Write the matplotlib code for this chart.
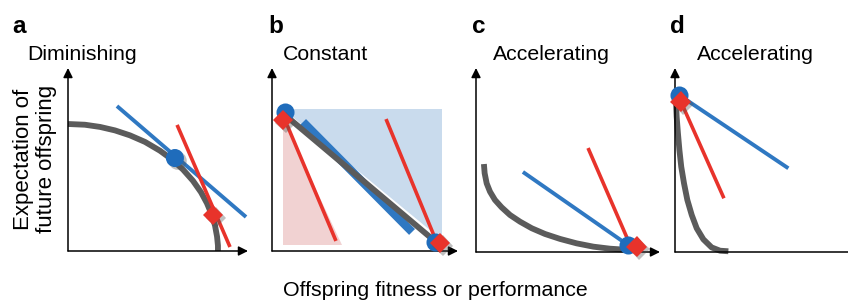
import numpy as np
import matplotlib
matplotlib.use('Agg')
from matplotlib import pyplot as plt
import matplotlib.patheffects as pe

plt.rcParams['font.family'] = ['Liberation Sans', 'DejaVu Sans']

# Panel data, in axis units (0..1 along each arrow)
panel_letters = ['a', 'b', 'c', 'd']
panel_titles = ['Diminishing', 'Constant', 'Accelerating', 'Accelerating']

# a: diminishing trade-off curve
curve_a_x = [0.0, 0.094, 0.178, 0.261, 0.344, 0.428, 0.511, 0.578, 0.639, 0.694,
             0.739, 0.772, 0.8, 0.817, 0.828, 0.833, 0.833]
curve_a_y = [0.694, 0.69, 0.678, 0.659, 0.632, 0.596, 0.548, 0.5, 0.445, 0.384,
             0.321, 0.261, 0.195, 0.138, 0.079, 0.03, 0.0]
blue_a_x = [0.272, 0.989]
blue_a_y = [0.792, 0.186]
red_a_x = [0.606, 0.9]
red_a_y = [0.689, 0.022]
dot_a = (0.594, 0.508)
diamond_a = (0.806, 0.197)

# b: constant trade-off
curve_b_x = [0.07, 0.887]
curve_b_y = [0.743, 0.044]
band_b_x = [0.167, 0.753]
band_b_y = [0.705, 0.104]
blue_fill_x = [0.06, 0.914, 0.914]
blue_fill_y = [0.776, 0.776, 0.06]
red_fill_x = [0.059, 0.059, 0.376]
red_fill_y = [0.721, 0.033, 0.033]
red_b1_x = [0.081, 0.344]
red_b1_y = [0.689, 0.055]
red_b2_x = [0.613, 0.887]
red_b2_y = [0.721, 0.044]
dots_b_x = [0.07, 0.876]
dots_b_y = [0.76, 0.049]
diamonds_b_x = [0.059, 0.903]
diamonds_b_y = [0.716, 0.044]

# c: accelerating, optimum at high fitness
curve_c_x = [0.043, 0.047, 0.058, 0.076, 0.103, 0.139, 0.185, 0.239, 0.303, 0.375,
             0.457, 0.547, 0.638, 0.728, 0.819]
curve_c_y = [0.478, 0.428, 0.373, 0.328, 0.283, 0.243, 0.201, 0.165, 0.129, 0.098,
             0.071, 0.047, 0.029, 0.018, 0.012]
blue_c_x = [0.255, 0.81]
blue_c_y = [0.435, 0.049]
red_c_x = [0.609, 0.826]
red_c_y = [0.565, 0.065]
dot_c = (0.826, 0.038)
diamond_c = (0.873, 0.029)

# d: accelerating, optimum at low fitness
curve_d_x = [0.005, 0.009, 0.016, 0.024, 0.034, 0.049, 0.067, 0.091, 0.118, 0.154,
             0.199, 0.245, 0.29]
curve_d_y = [0.826, 0.735, 0.645, 0.554, 0.463, 0.373, 0.283, 0.201, 0.129, 0.069,
             0.025, 0.007, 0.004]
blue_d_x = [0.036, 0.616]
blue_d_y = [0.844, 0.455]
red_d_x = [0.036, 0.266]
red_d_y = [0.808, 0.292]
dot_d = (0.023, 0.853)
diamond_d = (0.031, 0.817)

GRAY = '#5b5b5b'
BLUE = '#2f78c2'
DOT = '#1f6cbb'
RED = '#e8332b'
shadow = [pe.SimplePatchShadow(offset=(2, -2), shadow_rgbFace='0.3', alpha=0.35), pe.Normal()]

W, H = 848, 301
fig = plt.figure(figsize=(W / 100, H / 100), dpi=100)

# axes origin (px), width, height
boxes = [(68, 251, 180, 183), (272, 251, 186, 183), (476, 252, 184, 184), (675, 252, 184, 184)]
axes = []
for x0, y0, w, h in boxes:
    ax = fig.add_axes([x0 / W, (H - y0) / H, w / W, h / H])
    ax.set_xlim(0, 1)
    ax.set_ylim(0, 1)
    ax.axis('off')
    for tip in [(1, 0), (0, 1)]:
        ax.annotate('', xy=tip, xytext=(0, 0), annotation_clip=False,
                    arrowprops=dict(arrowstyle='-|>', color='black', lw=1.1,
                                    mutation_scale=14, shrinkA=0, shrinkB=0))
    axes.append(ax)


def line(ax, x, y, color, lw, z):
    ax.plot(x, y, color=color, lw=lw, solid_capstyle='butt', solid_joinstyle='round',
            zorder=z, clip_on=False)


lw_curve, lw_blue, lw_red = 4.2, 2.8, 2.6
ms_dot, ms_dia = 13, 10.5

# a
ax = axes[0]
line(ax, curve_a_x, curve_a_y, GRAY, lw_curve, 2)
line(ax, blue_a_x, blue_a_y, BLUE, lw_blue, 3)
line(ax, red_a_x, red_a_y, RED, lw_red, 4)
ax.plot(*dot_a, 'o', color=DOT, ms=ms_dot, mew=0, zorder=5, path_effects=shadow)
ax.plot(*diamond_a, 'D', color=RED, ms=ms_dia, mew=0, zorder=6, path_effects=shadow)

# b
ax = axes[1]
ax.fill(blue_fill_x, blue_fill_y, color='#c9dbed', lw=0, zorder=1)
ax.fill(red_fill_x, red_fill_y, color='#f1d2d2', lw=0, zorder=1)
line(ax, band_b_x, band_b_y, BLUE, 6.0, 2)
line(ax, curve_b_x, curve_b_y, GRAY, lw_curve, 3)
line(ax, red_b1_x, red_b1_y, RED, lw_red, 4)
line(ax, red_b2_x, red_b2_y, RED, lw_red, 4)
ax.plot(dots_b_x, dots_b_y, 'o', color=DOT, ms=ms_dot, mew=0, zorder=5, clip_on=False)
ax.plot(diamonds_b_x, diamonds_b_y, 'D', color=RED, ms=ms_dia, mew=0, zorder=6,
        clip_on=False, path_effects=shadow)

# c
ax = axes[2]
line(ax, curve_c_x, curve_c_y, GRAY, lw_curve, 2)
line(ax, blue_c_x, blue_c_y, BLUE, lw_blue, 3)
line(ax, red_c_x, red_c_y, RED, lw_red, 4)
ax.plot(*dot_c, 'o', color=DOT, ms=ms_dot, mew=0, zorder=5, clip_on=False)
ax.plot(*diamond_c, 'D', color=RED, ms=ms_dia, mew=0, zorder=6, clip_on=False,
        path_effects=shadow)

# d
ax = axes[3]
line(ax, curve_d_x, curve_d_y, GRAY, lw_curve, 2)
line(ax, blue_d_x, blue_d_y, BLUE, lw_blue, 3)
line(ax, red_d_x, red_d_y, RED, lw_red, 4)
ax.plot(*dot_d, 'o', color=DOT, ms=ms_dot, mew=0, zorder=5, clip_on=False)
ax.plot(*diamond_d, 'D', color=RED, ms=ms_dia, mew=0, zorder=6, clip_on=False,
        path_effects=shadow)

# panel letters and titles (px positions)
letter_x = [12, 268, 472, 670]
title_x = [27, 283, 493, 697]
for lx, tx, letter, title in zip(letter_x, title_x, panel_letters, panel_titles):
    fig.text(lx / W, 1 - 33 / H, letter, fontsize=17.5, fontweight='bold', va='baseline')
    fig.text(tx / W, 1 - 60 / H, title, fontsize=15.3, va='baseline')

fig.text(35 / W, 1 - 159 / H, 'Expectation of\nfuture offspring', fontsize=16,
         rotation=90, ha='center', va='center', linespacing=1.1)
fig.text(435 / W, 1 - 290 / H, 'Offspring fitness or performance', fontsize=15.4,
         ha='center', va='center')

fig.savefig('out.png', dpi=100)
